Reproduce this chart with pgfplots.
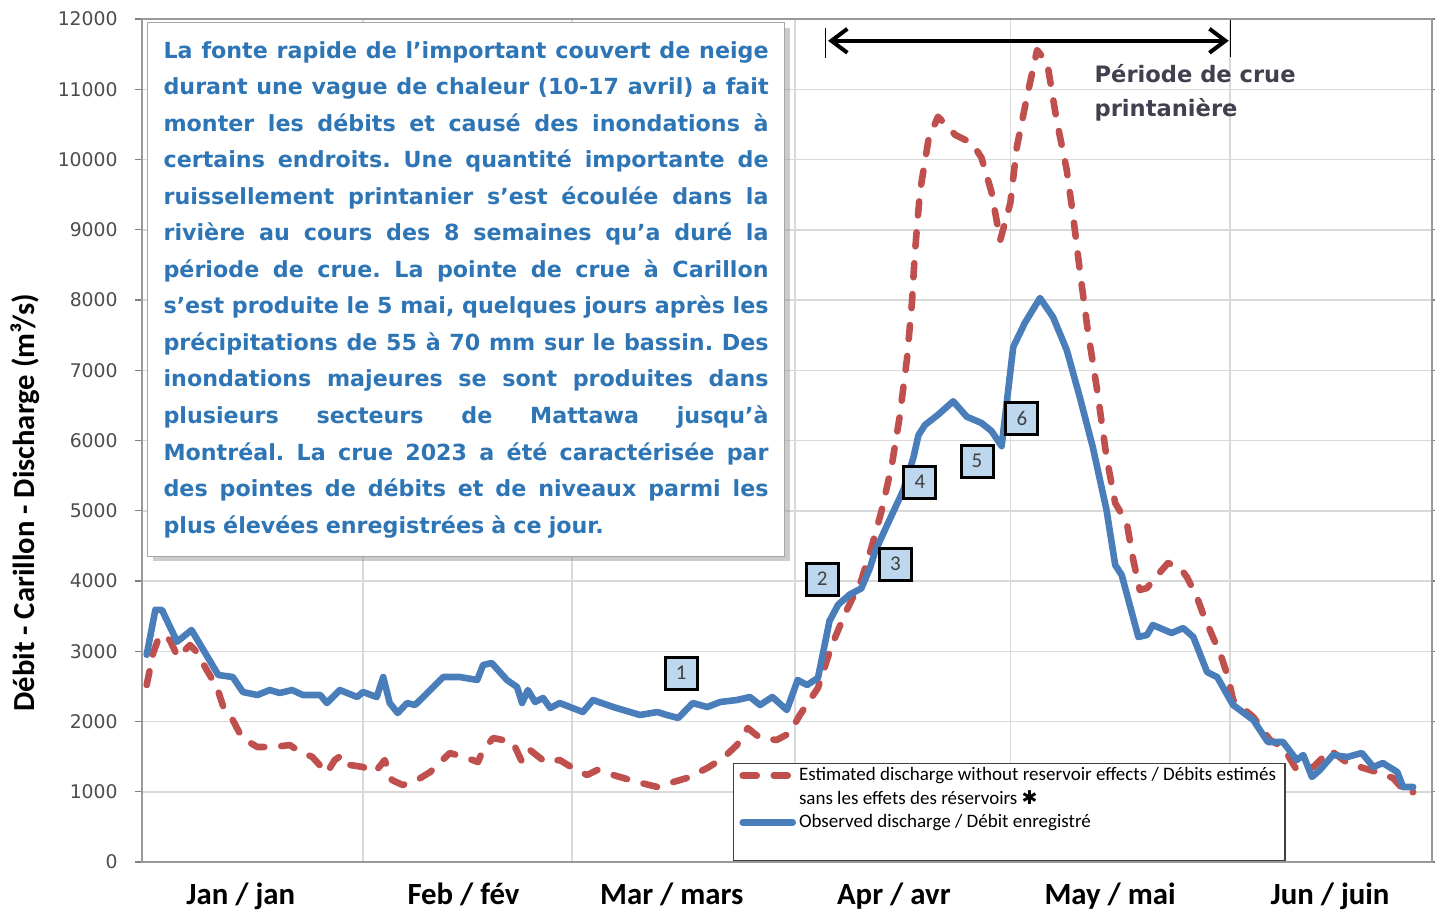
\documentclass[border=0pt]{standalone}
\usepackage{fontspec}
\setmainfont{Carlito}
\newfontfamily\dejavu{DejaVu Sans}
\usepackage{pgfplots}
\pgfplotsset{compat=1.18}
\usetikzlibrary{arrows.meta,shadows}
\definecolor{obsblue}{RGB}{74,126,187}
\definecolor{estred}{RGB}{192,80,77}
\definecolor{txtblue}{RGB}{46,117,182}
\definecolor{boxblue}{RGB}{189,215,238}
\definecolor{gridgray}{RGB}{217,217,217}
\definecolor{darktxt}{RGB}{64,64,80}
\newcommand\jline[1]{\hbox to 302.5pt{\spaceskip=0.32em plus 3em minus 0.04em\relax #1}}
\newcommand\nline[1]{\hbox to 302.5pt{\spaceskip=0.32em\relax #1\hfil}}
\begin{document}
\frenchspacing
\begin{tikzpicture}
\useasboundingbox (-71pt,-25pt) rectangle (646.5pt,431pt);
\begin{axis}[
  at={(0,0)}, anchor=south west,
  scale only axis, width=645pt, height=421.5pt,
  xmin=0.55, xmax=178.9, ymin=0, ymax=12000,
  ytick={0,1000,...,12000},
  scaled y ticks=false,
  xtick={14.2,45,73.8,104.5,134.4,164.8},
  xticklabels={Jan / jan, Feb / fév, Mar / mars, Apr / avr, May / mai, Jun / juin},
  minor xtick={31.1,60.0,90.8,120.6,151.0},
  xminorgrids=true, ymajorgrids=true, xmajorgrids=false,
  grid style={gridgray, line width=0.75pt},
  minor grid style={gridgray, line width=0.75pt},
  axis line style={black!40, line width=0.8pt},
  tick align=outside,
  major tick length=3.5pt, minor tick length=0pt,
  xtick style={draw=none},
  ytick style={black!50, line width=0.6pt},
  /pgf/number format/1000 sep={},
  /pgf/number format/assume math mode=true,
  yticklabel style={font=\dejavu\fontsize{9.4}{11}\selectfont, text=black!70, inner sep=0pt, xshift=-8.5pt},
  xticklabel style={font=\bfseries\fontsize{15.4}{18}\selectfont, anchor=base, inner sep=0pt, yshift=-17.5pt},
  clip mode=individual,
  legend style={at={(rel axis cs:0.458,0.1174)}, anchor=north west, draw=black!75, line width=0.6pt, fill=white,
    font=\fontsize{9.5}{11.5}\selectfont, inner xsep=3pt, inner ysep=0.5pt, row sep=0.4pt,
    nodes={inner sep=1.5pt}},
  legend cell align=left,
  legend image code/.code={\draw[#1] (0pt,0pt) -- (25pt,0pt);},
]
\addplot[estred, line width=3.3pt, dash pattern=on 7pt off 8.5pt, line cap=round, line join=round] table {
1.2 2520
2.1 2975
3.0 3231
4.4 3160
5.5 2918
7.2 3089
8.1 2990
9.5 2733
10.9 2491
11.8 2206
13.1 2021
14.4 1765
16.5 1637
18.7 1637
21.0 1665
22.0 1594
24.1 1495
26.1 1267
27.2 1452
28.2 1523
29.3 1381
31.1 1352
32.8 1281
34.1 1452
35.1 1167
36.6 1096
38.6 1167
40.4 1281
43.1 1552
45.5 1480
47.0 1423
47.7 1594
49.1 1765
51.8 1708
53.1 1423
54.2 1594
56.3 1423
58.3 1452
60.1 1338
62.1 1238
63.5 1310
65.7 1238
69.0 1139
71.8 1068
74.0 1139
75.9 1196
78.7 1338
80.9 1480
82.8 1665
84.3 1907
86.0 1765
88.3 1737
90.1 1836
91.5 2093
94.0 2477
95.9 3081
97.8 3547
100.0 4012
101.4 4477
102.8 5000
104.2 5640
105.3 6337
106.3 7151
107.0 7965
107.4 8663
108.1 9535
109.3 10291
110.6 10610
113.0 10349
115.3 10233
116.6 10029
118.0 9535
119.2 8850
120.6 9380
121.5 10178
122.9 10890
124.3 11559
125.7 11374
127.0 10562
128.4 9851
129.3 9181
130.2 8427
131.3 7573
132.6 6719
133.9 5765
135.1 5110
136.7 4826
137.6 4299
138.5 3872
139.5 3900
140.6 4043
142.4 4256
144.1 4185
145.0 4057
146.4 3772
147.2 3544
148.6 3203
149.6 2975
150.7 2633
151.4 2306
154.2 2064
156.5 1737
158.3 1637
160.2 1310
162.5 1352
164.8 1594
167.2 1409
169.4 1338
171.7 1267
173.5 1196
175.6 954
176.3 996
};
\addlegendentry{Estimated discharge without reservoir effects / Débits estimés}
\addlegendimage{empty legend}
\addlegendentry{sans les effets des réservoirs\ {\dejavu ✱}}
\addplot[obsblue, line width=3.3pt, line join=round, line cap=round] table {
1.2 2950
2.4 3590
3.3 3590
5.4 3136
7.4 3302
9.7 2904
11.1 2662
13.1 2633
14.5 2420
16.5 2377
18.2 2448
19.6 2406
21.3 2448
22.8 2377
25.2 2377
26.1 2263
27.9 2448
30.3 2349
31.1 2420
33.0 2349
33.9 2633
34.8 2263
35.9 2121
37.2 2263
38.3 2235
40.0 2406
42.2 2633
44.5 2633
46.9 2591
47.7 2804
48.9 2833
51.0 2591
52.4 2491
53.1 2263
53.9 2448
54.9 2278
56.0 2335
57.0 2192
58.3 2263
61.5 2135
62.9 2306
65.7 2206
69.4 2093
71.8 2135
73.1 2093
74.7 2050
76.7 2263
78.7 2206
80.5 2278
82.8 2306
84.6 2349
86.0 2235
87.7 2349
89.7 2164
91.2 2591
92.5 2520
94.0 2619
95.6 3430
96.8 3663
98.4 3808
100.0 3895
101.2 4186
101.9 4419
103.7 4826
105.8 5291
107.2 5756
107.9 6076
108.8 6221
110.6 6366
112.7 6558
114.6 6337
116.6 6250
118.0 6134
119.4 5920
121.0 7331
122.6 7673
124.7 8028
126.5 7758
128.4 7288
130.2 6619
132.0 5907
133.9 5011
135.1 4228
136.0 4085
138.3 3203
139.5 3231
140.3 3374
142.9 3260
144.5 3331
145.9 3203
147.8 2705
149.2 2633
151.4 2235
154.2 2021
156.2 1708
158.3 1708
160.2 1452
161.1 1523
162.3 1210
163.4 1310
165.2 1523
167.2 1495
169.2 1552
170.8 1352
172.1 1409
174.1 1281
174.9 1068
176.3 1068
};
\addlegendentry{Observed discharge / Débit enregistré}
\addlegendimage{empty legend}
\addlegendentry{\strut}

% text box
\node[anchor=north west, draw=black!35, line width=0.6pt, fill=white,
  drop shadow={shadow xshift=2.5pt, shadow yshift=-2.5pt, fill=black!40},
  inner xsep=8pt, inner ysep=9.3pt, text width=302.5pt, align=left,
  font=\dejavu\bfseries\fontsize{11.1}{18.27}\selectfont, text=txtblue]
  at ([xshift=2.5pt, yshift=-1.5pt]rel axis cs:0,1) {%
\jline{La fonte rapide de l’important couvert de neige}
\jline{durant une vague de chaleur (10-17 avril) a fait}
\jline{monter les débits et causé des inondations à}
\jline{certains endroits. Une quantité importante de}
\jline{ruissellement printanier s’est écoulée dans la}
\jline{rivière au cours des 8 semaines qu’a duré la}
\jline{période de crue. La pointe de crue à Carillon}
\jline{s’est produite le 5 mai, quelques jours après les}
\jline{précipitations de 55 à 70 mm sur le bassin. Des}
\jline{inondations majeures se sont produites dans}
\jline{plusieurs secteurs de Mattawa jusqu’à}
\jline{Montréal. La crue 2023 a été caractérisée par}
\jline{des pointes de débits et de niveaux parmi les}
\nline{plus élevées enregistrées à ce jour.}};

% y label
\node[rotate=90, font=\bfseries\fontsize{15.3}{17}\selectfont, anchor=center]
  at ([xshift=-58.5pt]rel axis cs:0,0.426) {Débit - Carillon - Discharge (m³/s)};

% period arrow
\draw[line width=2pt, {Straight Barb[length=8pt,width=12pt]}-{Straight Barb[length=8pt,width=12pt]}]
  (axis cs:95.4,11690) -- (axis cs:150.8,11690);
\draw[line width=0.6pt] (axis cs:95.1,11445) -- (axis cs:95.1,11872);
\draw[line width=0.6pt] (axis cs:151.0,11459) -- (axis cs:151.0,11986);
\node[anchor=base west, inner sep=0pt, font=\dejavu\bfseries\fontsize{11.3}{13}\selectfont, text=darktxt]
  at (axis cs:132.2,11089) {Période de crue};
\node[anchor=base west, inner sep=0pt, font=\dejavu\bfseries\fontsize{11.3}{13}\selectfont, text=darktxt]
  at (axis cs:132.2,10619) {printanière};

% numbered markers
\tikzset{numbox/.style={draw=black, line width=1.5pt, fill=boxblue, minimum width=16pt, minimum height=16pt,
  inner sep=0pt, font=\fontsize{10.5}{12}\selectfont, text=black!75}}
\node[numbox] at (axis cs:75.1,2690) {1};
\node[numbox] at (axis cs:94.6,4028) {2};
\node[numbox] at (axis cs:104.7,4242) {3};
\node[numbox] at (axis cs:108.1,5409) {4};
\node[numbox] at (axis cs:116.0,5708) {5};
\node[numbox] at (axis cs:122.2,6320) {6};
\end{axis}
\end{tikzpicture}
\end{document}
